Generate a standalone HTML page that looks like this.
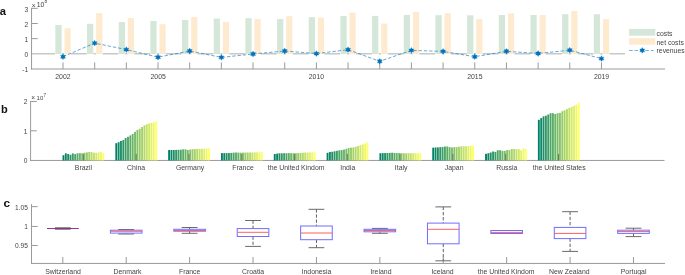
<!DOCTYPE html>
<html><head><meta charset="utf-8"><style>
html,body{margin:0;padding:0;background:#fff;}
body{width:685px;height:275px;overflow:hidden;}
svg{display:block;font-family:"Liberation Sans", sans-serif;will-change:transform;}
</style></head><body>
<svg width="685" height="275" viewBox="0 0 685 275">
<rect width="685" height="275" fill="#fff"/>
<line x1="31.55" y1="7.85" x2="31.55" y2="69.50" stroke="#9a9a9a" stroke-width="1.0" />
<line x1="31.05" y1="69.00" x2="665.00" y2="69.00" stroke="#9a9a9a" stroke-width="1.0" />
<line x1="31.55" y1="8.35" x2="37.75" y2="8.35" stroke="#9a9a9a" stroke-width="1.0" />
<text x="28.10" y="11.60" font-size="6.6" text-anchor="end" fill="#444444" font-weight="normal" >3</text>
<line x1="31.55" y1="23.50" x2="37.75" y2="23.50" stroke="#9a9a9a" stroke-width="1.0" />
<text x="28.10" y="27.00" font-size="6.6" text-anchor="end" fill="#444444" font-weight="normal" >2</text>
<line x1="31.55" y1="38.65" x2="37.75" y2="38.65" stroke="#9a9a9a" stroke-width="1.0" />
<text x="28.10" y="41.60" font-size="6.6" text-anchor="end" fill="#444444" font-weight="normal" >1</text>
<text x="28.10" y="56.90" font-size="6.6" text-anchor="end" fill="#444444" font-weight="normal" >0</text>
<text x="28.10" y="71.60" font-size="6.6" text-anchor="end" fill="#444444" font-weight="normal" >-1</text>
<line x1="63.00" y1="69.00" x2="63.00" y2="62.40" stroke="#9a9a9a" stroke-width="1.0" />
<line x1="94.67" y1="69.00" x2="94.67" y2="62.40" stroke="#9a9a9a" stroke-width="1.0" />
<line x1="126.35" y1="69.00" x2="126.35" y2="62.40" stroke="#9a9a9a" stroke-width="1.0" />
<line x1="158.02" y1="69.00" x2="158.02" y2="62.40" stroke="#9a9a9a" stroke-width="1.0" />
<line x1="189.70" y1="69.00" x2="189.70" y2="62.40" stroke="#9a9a9a" stroke-width="1.0" />
<line x1="221.37" y1="69.00" x2="221.37" y2="62.40" stroke="#9a9a9a" stroke-width="1.0" />
<line x1="253.04" y1="69.00" x2="253.04" y2="62.40" stroke="#9a9a9a" stroke-width="1.0" />
<line x1="284.72" y1="69.00" x2="284.72" y2="62.40" stroke="#9a9a9a" stroke-width="1.0" />
<line x1="316.39" y1="69.00" x2="316.39" y2="62.40" stroke="#9a9a9a" stroke-width="1.0" />
<line x1="348.07" y1="69.00" x2="348.07" y2="62.40" stroke="#9a9a9a" stroke-width="1.0" />
<line x1="379.74" y1="69.00" x2="379.74" y2="62.40" stroke="#9a9a9a" stroke-width="1.0" />
<line x1="411.41" y1="69.00" x2="411.41" y2="62.40" stroke="#9a9a9a" stroke-width="1.0" />
<line x1="443.09" y1="69.00" x2="443.09" y2="62.40" stroke="#9a9a9a" stroke-width="1.0" />
<line x1="474.76" y1="69.00" x2="474.76" y2="62.40" stroke="#9a9a9a" stroke-width="1.0" />
<line x1="506.44" y1="69.00" x2="506.44" y2="62.40" stroke="#9a9a9a" stroke-width="1.0" />
<line x1="538.11" y1="69.00" x2="538.11" y2="62.40" stroke="#9a9a9a" stroke-width="1.0" />
<line x1="569.78" y1="69.00" x2="569.78" y2="62.40" stroke="#9a9a9a" stroke-width="1.0" />
<line x1="601.46" y1="69.00" x2="601.46" y2="62.40" stroke="#9a9a9a" stroke-width="1.0" />
<text x="62.90" y="79.30" font-size="6.9" text-anchor="middle" fill="#444444" font-weight="normal" >2002</text>
<text x="158.20" y="79.30" font-size="6.9" text-anchor="middle" fill="#444444" font-weight="normal" >2005</text>
<text x="316.40" y="79.30" font-size="6.9" text-anchor="middle" fill="#444444" font-weight="normal" >2010</text>
<text x="474.85" y="79.30" font-size="6.9" text-anchor="middle" fill="#444444" font-weight="normal" >2015</text>
<text x="601.55" y="79.30" font-size="6.9" text-anchor="middle" fill="#444444" font-weight="normal" >2019</text>
<text x="31.80" y="7.60" font-size="6.6" text-anchor="start" fill="#444444" font-weight="normal" >×</text>
<text x="36.70" y="7.35" font-size="6.9" text-anchor="start" fill="#444444" font-weight="normal" >10</text>
<text x="44.50" y="3.30" font-size="4.8" text-anchor="start" fill="#444444" font-weight="normal" >8</text>
<line x1="32.05" y1="53.80" x2="625.00" y2="53.80" stroke="#c8c8c8" stroke-width="1.6" />
<rect x="55.05" y="52.90" width="6.85" height="2.30" fill="#ffffff"/>
<rect x="55.35" y="25.00" width="6.25" height="29.00" fill="#d5e7d8"/>
<rect x="64.20" y="52.90" width="6.75" height="2.30" fill="#ffffff"/>
<rect x="64.50" y="28.20" width="6.15" height="25.80" fill="#fdeacf"/>
<rect x="86.72" y="52.90" width="6.85" height="2.30" fill="#ffffff"/>
<rect x="87.02" y="23.80" width="6.25" height="30.20" fill="#d5e7d8"/>
<rect x="95.87" y="52.90" width="6.75" height="2.30" fill="#ffffff"/>
<rect x="96.17" y="13.10" width="6.15" height="40.90" fill="#fdeacf"/>
<rect x="118.40" y="52.90" width="6.85" height="2.30" fill="#ffffff"/>
<rect x="118.70" y="22.00" width="6.25" height="32.00" fill="#d5e7d8"/>
<rect x="127.55" y="52.90" width="6.75" height="2.30" fill="#ffffff"/>
<rect x="127.85" y="18.00" width="6.15" height="36.00" fill="#fdeacf"/>
<rect x="150.07" y="52.90" width="6.85" height="2.30" fill="#ffffff"/>
<rect x="150.37" y="21.00" width="6.25" height="33.00" fill="#d5e7d8"/>
<rect x="159.22" y="52.90" width="6.75" height="2.30" fill="#ffffff"/>
<rect x="159.52" y="24.20" width="6.15" height="29.80" fill="#fdeacf"/>
<rect x="181.75" y="52.90" width="6.85" height="2.30" fill="#ffffff"/>
<rect x="182.05" y="20.00" width="6.25" height="34.00" fill="#d5e7d8"/>
<rect x="190.90" y="52.90" width="6.75" height="2.30" fill="#ffffff"/>
<rect x="191.20" y="17.00" width="6.15" height="37.00" fill="#fdeacf"/>
<rect x="213.42" y="52.90" width="6.85" height="2.30" fill="#ffffff"/>
<rect x="213.72" y="18.60" width="6.25" height="35.40" fill="#d5e7d8"/>
<rect x="222.57" y="52.90" width="6.75" height="2.30" fill="#ffffff"/>
<rect x="222.87" y="22.00" width="6.15" height="32.00" fill="#fdeacf"/>
<rect x="245.09" y="52.90" width="6.85" height="2.30" fill="#ffffff"/>
<rect x="245.39" y="18.20" width="6.25" height="35.80" fill="#d5e7d8"/>
<rect x="254.24" y="52.90" width="6.75" height="2.30" fill="#ffffff"/>
<rect x="254.54" y="19.00" width="6.15" height="35.00" fill="#fdeacf"/>
<rect x="276.77" y="52.90" width="6.85" height="2.30" fill="#ffffff"/>
<rect x="277.07" y="19.00" width="6.25" height="35.00" fill="#d5e7d8"/>
<rect x="285.92" y="52.90" width="6.75" height="2.30" fill="#ffffff"/>
<rect x="286.22" y="16.20" width="6.15" height="37.80" fill="#fdeacf"/>
<rect x="308.44" y="52.90" width="6.85" height="2.30" fill="#ffffff"/>
<rect x="308.74" y="17.20" width="6.25" height="36.80" fill="#d5e7d8"/>
<rect x="317.59" y="52.90" width="6.75" height="2.30" fill="#ffffff"/>
<rect x="317.89" y="17.60" width="6.15" height="36.40" fill="#fdeacf"/>
<rect x="340.12" y="52.90" width="6.85" height="2.30" fill="#ffffff"/>
<rect x="340.42" y="16.00" width="6.25" height="38.00" fill="#d5e7d8"/>
<rect x="349.27" y="52.90" width="6.75" height="2.30" fill="#ffffff"/>
<rect x="349.57" y="12.60" width="6.15" height="41.40" fill="#fdeacf"/>
<rect x="371.79" y="52.90" width="6.85" height="2.30" fill="#ffffff"/>
<rect x="372.09" y="15.90" width="6.25" height="38.10" fill="#d5e7d8"/>
<rect x="380.94" y="52.90" width="6.75" height="2.30" fill="#ffffff"/>
<rect x="381.24" y="23.50" width="6.15" height="30.50" fill="#fdeacf"/>
<rect x="403.46" y="52.90" width="6.85" height="2.30" fill="#ffffff"/>
<rect x="403.76" y="15.00" width="6.25" height="39.00" fill="#d5e7d8"/>
<rect x="412.61" y="52.90" width="6.75" height="2.30" fill="#ffffff"/>
<rect x="412.91" y="12.00" width="6.15" height="42.00" fill="#fdeacf"/>
<rect x="435.14" y="52.90" width="6.85" height="2.30" fill="#ffffff"/>
<rect x="435.44" y="15.20" width="6.25" height="38.80" fill="#d5e7d8"/>
<rect x="444.29" y="52.90" width="6.75" height="2.30" fill="#ffffff"/>
<rect x="444.59" y="13.30" width="6.15" height="40.70" fill="#fdeacf"/>
<rect x="466.81" y="52.90" width="6.85" height="2.30" fill="#ffffff"/>
<rect x="467.11" y="15.30" width="6.25" height="38.70" fill="#d5e7d8"/>
<rect x="475.96" y="52.90" width="6.75" height="2.30" fill="#ffffff"/>
<rect x="476.26" y="19.00" width="6.15" height="35.00" fill="#fdeacf"/>
<rect x="498.49" y="52.90" width="6.85" height="2.30" fill="#ffffff"/>
<rect x="498.79" y="15.00" width="6.25" height="39.00" fill="#d5e7d8"/>
<rect x="507.64" y="52.90" width="6.75" height="2.30" fill="#ffffff"/>
<rect x="507.94" y="13.30" width="6.15" height="40.70" fill="#fdeacf"/>
<rect x="530.16" y="52.90" width="6.85" height="2.30" fill="#ffffff"/>
<rect x="530.46" y="15.00" width="6.25" height="39.00" fill="#d5e7d8"/>
<rect x="539.31" y="52.90" width="6.75" height="2.30" fill="#ffffff"/>
<rect x="539.61" y="15.00" width="6.15" height="39.00" fill="#fdeacf"/>
<rect x="561.83" y="52.90" width="6.85" height="2.30" fill="#ffffff"/>
<rect x="562.13" y="14.20" width="6.25" height="39.80" fill="#d5e7d8"/>
<rect x="570.98" y="52.90" width="6.75" height="2.30" fill="#ffffff"/>
<rect x="571.28" y="11.10" width="6.15" height="42.90" fill="#fdeacf"/>
<rect x="593.51" y="52.90" width="6.85" height="2.30" fill="#ffffff"/>
<rect x="593.81" y="14.20" width="6.25" height="39.80" fill="#d5e7d8"/>
<rect x="602.66" y="52.90" width="6.75" height="2.30" fill="#ffffff"/>
<rect x="602.96" y="19.20" width="6.15" height="34.80" fill="#fdeacf"/>
<polyline points="63.00,56.70 94.67,43.10 126.35,49.60 158.02,57.20 189.70,51.00 221.37,57.40 253.04,54.00 284.72,51.00 316.39,53.60 348.07,49.70 379.74,61.30 411.41,50.40 443.09,51.40 474.76,56.70 506.44,51.30 538.11,53.50 569.78,50.20 601.46,58.60" fill="none" stroke="#0072bd" stroke-width="0.75" stroke-dasharray="3.4 1.9" opacity="0.8"/>
<polygon points="63.00,53.80 63.84,55.25 65.51,55.25 64.67,56.70 65.51,58.15 63.84,58.15 63.00,59.60 62.16,58.15 60.49,58.15 61.33,56.70 60.49,55.25 62.16,55.25" fill="#0072bd" stroke="#0072bd" stroke-width="0.3"/>
<polygon points="94.67,40.20 95.51,41.65 97.19,41.65 96.35,43.10 97.19,44.55 95.51,44.55 94.67,46.00 93.84,44.55 92.16,44.55 93.00,43.10 92.16,41.65 93.84,41.65" fill="#0072bd" stroke="#0072bd" stroke-width="0.3"/>
<polygon points="126.35,46.70 127.19,48.15 128.86,48.15 128.02,49.60 128.86,51.05 127.19,51.05 126.35,52.50 125.51,51.05 123.84,51.05 124.67,49.60 123.84,48.15 125.51,48.15" fill="#0072bd" stroke="#0072bd" stroke-width="0.3"/>
<polygon points="158.02,54.30 158.86,55.75 160.53,55.75 159.70,57.20 160.53,58.65 158.86,58.65 158.02,60.10 157.18,58.65 155.51,58.65 156.35,57.20 155.51,55.75 157.18,55.75" fill="#0072bd" stroke="#0072bd" stroke-width="0.3"/>
<polygon points="189.70,48.10 190.53,49.55 192.21,49.55 191.37,51.00 192.21,52.45 190.53,52.45 189.70,53.90 188.86,52.45 187.18,52.45 188.02,51.00 187.18,49.55 188.86,49.55" fill="#0072bd" stroke="#0072bd" stroke-width="0.3"/>
<polygon points="221.37,54.50 222.21,55.95 223.88,55.95 223.04,57.40 223.88,58.85 222.21,58.85 221.37,60.30 220.53,58.85 218.86,58.85 219.70,57.40 218.86,55.95 220.53,55.95" fill="#0072bd" stroke="#0072bd" stroke-width="0.3"/>
<polygon points="253.04,51.10 253.88,52.55 255.56,52.55 254.72,54.00 255.56,55.45 253.88,55.45 253.04,56.90 252.21,55.45 250.53,55.45 251.37,54.00 250.53,52.55 252.21,52.55" fill="#0072bd" stroke="#0072bd" stroke-width="0.3"/>
<polygon points="284.72,48.10 285.56,49.55 287.23,49.55 286.39,51.00 287.23,52.45 285.56,52.45 284.72,53.90 283.88,52.45 282.21,52.45 283.04,51.00 282.21,49.55 283.88,49.55" fill="#0072bd" stroke="#0072bd" stroke-width="0.3"/>
<polygon points="316.39,50.70 317.23,52.15 318.90,52.15 318.07,53.60 318.90,55.05 317.23,55.05 316.39,56.50 315.55,55.05 313.88,55.05 314.72,53.60 313.88,52.15 315.55,52.15" fill="#0072bd" stroke="#0072bd" stroke-width="0.3"/>
<polygon points="348.07,46.80 348.90,48.25 350.58,48.25 349.74,49.70 350.58,51.15 348.90,51.15 348.07,52.60 347.23,51.15 345.55,51.15 346.39,49.70 345.55,48.25 347.23,48.25" fill="#0072bd" stroke="#0072bd" stroke-width="0.3"/>
<polygon points="379.74,58.40 380.58,59.85 382.25,59.85 381.41,61.30 382.25,62.75 380.58,62.75 379.74,64.20 378.90,62.75 377.23,62.75 378.07,61.30 377.23,59.85 378.90,59.85" fill="#0072bd" stroke="#0072bd" stroke-width="0.3"/>
<polygon points="411.41,47.50 412.25,48.95 413.93,48.95 413.09,50.40 413.93,51.85 412.25,51.85 411.41,53.30 410.58,51.85 408.90,51.85 409.74,50.40 408.90,48.95 410.58,48.95" fill="#0072bd" stroke="#0072bd" stroke-width="0.3"/>
<polygon points="443.09,48.50 443.93,49.95 445.60,49.95 444.76,51.40 445.60,52.85 443.93,52.85 443.09,54.30 442.25,52.85 440.58,52.85 441.41,51.40 440.58,49.95 442.25,49.95" fill="#0072bd" stroke="#0072bd" stroke-width="0.3"/>
<polygon points="474.76,53.80 475.60,55.25 477.27,55.25 476.44,56.70 477.27,58.15 475.60,58.15 474.76,59.60 473.92,58.15 472.25,58.15 473.09,56.70 472.25,55.25 473.92,55.25" fill="#0072bd" stroke="#0072bd" stroke-width="0.3"/>
<polygon points="506.44,48.40 507.27,49.85 508.95,49.85 508.11,51.30 508.95,52.75 507.27,52.75 506.44,54.20 505.60,52.75 503.92,52.75 504.76,51.30 503.92,49.85 505.60,49.85" fill="#0072bd" stroke="#0072bd" stroke-width="0.3"/>
<polygon points="538.11,50.60 538.95,52.05 540.62,52.05 539.78,53.50 540.62,54.95 538.95,54.95 538.11,56.40 537.27,54.95 535.60,54.95 536.44,53.50 535.60,52.05 537.27,52.05" fill="#0072bd" stroke="#0072bd" stroke-width="0.3"/>
<polygon points="569.78,47.30 570.62,48.75 572.30,48.75 571.46,50.20 572.30,51.65 570.62,51.65 569.78,53.10 568.95,51.65 567.27,51.65 568.11,50.20 567.27,48.75 568.95,48.75" fill="#0072bd" stroke="#0072bd" stroke-width="0.3"/>
<polygon points="601.46,55.70 602.30,57.15 603.97,57.15 603.13,58.60 603.97,60.05 602.30,60.05 601.46,61.50 600.62,60.05 598.95,60.05 599.78,58.60 598.95,57.15 600.62,57.15" fill="#0072bd" stroke="#0072bd" stroke-width="0.3"/>
<rect x="629.10" y="29.00" width="26.20" height="6.70" fill="#d5e7d8"/>
<rect x="629.10" y="38.20" width="26.20" height="6.50" fill="#fdeacf"/>
<line x1="629.10" y1="50.40" x2="653.60" y2="50.40" stroke="#0072bd" stroke-width="0.75" stroke-dasharray="3.6 1.8" opacity="0.8"/>
<polygon points="642.30,47.50 643.14,48.95 644.81,48.95 643.97,50.40 644.81,51.85 643.14,51.85 642.30,53.30 641.46,51.85 639.79,51.85 640.63,50.40 639.79,48.95 641.46,48.95" fill="#0072bd" stroke="#0072bd" stroke-width="0.3"/>
<text x="656.60" y="35.60" font-size="6.8" text-anchor="start" fill="#444444" font-weight="normal" >costs</text>
<text x="656.60" y="44.70" font-size="6.8" text-anchor="start" fill="#444444" font-weight="normal" >net costs</text>
<text x="656.60" y="53.30" font-size="6.8" text-anchor="start" fill="#444444" font-weight="normal" >revenues</text>
<text x="-0.30" y="15.10" font-size="11.2" text-anchor="start" fill="#111111" font-weight="bold" >a</text>
<line x1="30.60" y1="100.95" x2="30.60" y2="160.95" stroke="#9a9a9a" stroke-width="1.0" />
<line x1="30.10" y1="160.45" x2="664.50" y2="160.45" stroke="#9a9a9a" stroke-width="1.0" />
<line x1="30.60" y1="101.45" x2="36.80" y2="101.45" stroke="#9a9a9a" stroke-width="1.0" />
<text x="27.30" y="104.30" font-size="6.6" text-anchor="end" fill="#444444" font-weight="normal" >2</text>
<line x1="30.60" y1="130.80" x2="36.80" y2="130.80" stroke="#9a9a9a" stroke-width="1.0" />
<text x="27.30" y="133.60" font-size="6.6" text-anchor="end" fill="#444444" font-weight="normal" >1</text>
<text x="27.30" y="162.80" font-size="6.6" text-anchor="end" fill="#444444" font-weight="normal" >0</text>
<text x="83.40" y="170.20" font-size="6.9" text-anchor="middle" fill="#444444" font-weight="normal" >Brazil</text>
<text x="136.10" y="170.20" font-size="6.9" text-anchor="middle" fill="#444444" font-weight="normal" >China</text>
<text x="190.05" y="170.20" font-size="6.9" text-anchor="middle" fill="#444444" font-weight="normal" >Germany</text>
<text x="243.00" y="170.20" font-size="6.9" text-anchor="middle" fill="#444444" font-weight="normal" >France</text>
<text x="296.15" y="170.20" font-size="6.9" text-anchor="middle" fill="#444444" font-weight="normal" >the United Kindom</text>
<text x="347.80" y="170.20" font-size="6.9" text-anchor="middle" fill="#444444" font-weight="normal" >India</text>
<text x="401.15" y="170.20" font-size="6.9" text-anchor="middle" fill="#444444" font-weight="normal" >Italy</text>
<text x="454.10" y="170.20" font-size="6.9" text-anchor="middle" fill="#444444" font-weight="normal" >Japan</text>
<text x="506.85" y="170.20" font-size="6.9" text-anchor="middle" fill="#444444" font-weight="normal" >Russia</text>
<text x="559.20" y="170.20" font-size="6.9" text-anchor="middle" fill="#444444" font-weight="normal" >the United States</text>
<text x="31.20" y="100.40" font-size="6.6" text-anchor="start" fill="#444444" font-weight="normal" >×</text>
<text x="36.60" y="100.10" font-size="6.0" text-anchor="start" fill="#444444" font-weight="normal" >10</text>
<text x="43.50" y="96.50" font-size="4.5" text-anchor="start" fill="#444444" font-weight="normal" >7</text>
<text x="0.90" y="112.90" font-size="11.0" text-anchor="start" fill="#111111" font-weight="bold" >b</text>
<rect x="62.52" y="155.20" width="1.88" height="5.25" fill="rgb(0,128,102)"/>
<rect x="64.87" y="153.30" width="1.88" height="7.15" fill="rgb(15,135,102)"/>
<rect x="67.21" y="154.00" width="1.88" height="6.45" fill="rgb(30,142,102)"/>
<rect x="69.56" y="154.70" width="1.88" height="5.75" fill="rgb(45,150,102)"/>
<rect x="71.90" y="153.40" width="1.88" height="7.05" fill="rgb(60,158,102)"/>
<rect x="74.25" y="154.10" width="1.88" height="6.35" fill="rgb(75,165,102)"/>
<rect x="76.59" y="153.30" width="1.88" height="7.15" fill="rgb(90,172,102)"/>
<rect x="78.94" y="153.10" width="1.88" height="7.35" fill="rgb(105,180,102)"/>
<rect x="81.28" y="153.30" width="1.88" height="7.15" fill="rgb(120,188,102)"/>
<rect x="83.62" y="152.70" width="1.88" height="7.75" fill="rgb(135,195,102)"/>
<rect x="85.97" y="152.40" width="1.88" height="8.05" fill="rgb(150,203,102)"/>
<rect x="88.31" y="152.00" width="1.88" height="8.45" fill="rgb(165,210,102)"/>
<rect x="90.66" y="152.10" width="1.88" height="8.35" fill="rgb(180,218,102)"/>
<rect x="93.00" y="152.70" width="1.88" height="7.75" fill="rgb(195,225,102)"/>
<rect x="95.35" y="152.80" width="1.88" height="7.65" fill="rgb(210,232,102)"/>
<rect x="97.69" y="152.40" width="1.88" height="8.05" fill="rgb(225,240,102)"/>
<rect x="100.04" y="152.00" width="1.88" height="8.45" fill="rgb(240,248,102)"/>
<rect x="102.38" y="153.10" width="1.88" height="7.35" fill="rgb(255,255,102)"/>
<rect x="115.34" y="143.20" width="1.88" height="17.25" fill="rgb(0,128,102)"/>
<rect x="117.69" y="142.20" width="1.88" height="18.25" fill="rgb(15,135,102)"/>
<rect x="120.03" y="141.00" width="1.88" height="19.45" fill="rgb(30,142,102)"/>
<rect x="122.38" y="140.00" width="1.88" height="20.45" fill="rgb(45,150,102)"/>
<rect x="124.72" y="138.00" width="1.88" height="22.45" fill="rgb(60,158,102)"/>
<rect x="127.07" y="136.80" width="1.88" height="23.65" fill="rgb(75,165,102)"/>
<rect x="129.41" y="135.40" width="1.88" height="25.05" fill="rgb(90,172,102)"/>
<rect x="131.76" y="134.00" width="1.88" height="26.45" fill="rgb(105,180,102)"/>
<rect x="134.10" y="131.80" width="1.88" height="28.65" fill="rgb(120,188,102)"/>
<rect x="136.44" y="130.00" width="1.88" height="30.45" fill="rgb(135,195,102)"/>
<rect x="138.79" y="128.80" width="1.88" height="31.65" fill="rgb(150,203,102)"/>
<rect x="141.13" y="127.00" width="1.88" height="33.45" fill="rgb(165,210,102)"/>
<rect x="143.48" y="125.30" width="1.88" height="35.15" fill="rgb(180,218,102)"/>
<rect x="145.82" y="124.30" width="1.88" height="36.15" fill="rgb(195,225,102)"/>
<rect x="148.17" y="123.40" width="1.88" height="37.05" fill="rgb(210,232,102)"/>
<rect x="150.51" y="122.80" width="1.88" height="37.65" fill="rgb(225,240,102)"/>
<rect x="152.86" y="122.30" width="1.88" height="38.15" fill="rgb(240,248,102)"/>
<rect x="155.20" y="121.40" width="1.88" height="39.05" fill="rgb(255,255,102)"/>
<rect x="168.16" y="150.00" width="1.88" height="10.45" fill="rgb(0,128,102)"/>
<rect x="170.51" y="150.00" width="1.88" height="10.45" fill="rgb(15,135,102)"/>
<rect x="172.85" y="150.00" width="1.88" height="10.45" fill="rgb(30,142,102)"/>
<rect x="175.20" y="149.90" width="1.88" height="10.55" fill="rgb(45,150,102)"/>
<rect x="177.54" y="149.80" width="1.88" height="10.65" fill="rgb(60,158,102)"/>
<rect x="179.89" y="149.70" width="1.88" height="10.75" fill="rgb(75,165,102)"/>
<rect x="182.23" y="149.30" width="1.88" height="11.15" fill="rgb(90,172,102)"/>
<rect x="184.58" y="149.30" width="1.88" height="11.15" fill="rgb(105,180,102)"/>
<rect x="186.92" y="150.00" width="1.88" height="10.45" fill="rgb(120,188,102)"/>
<rect x="189.26" y="149.60" width="1.88" height="10.85" fill="rgb(135,195,102)"/>
<rect x="191.61" y="149.20" width="1.88" height="11.25" fill="rgb(150,203,102)"/>
<rect x="193.95" y="149.20" width="1.88" height="11.25" fill="rgb(165,210,102)"/>
<rect x="196.30" y="148.90" width="1.88" height="11.55" fill="rgb(180,218,102)"/>
<rect x="198.64" y="148.90" width="1.88" height="11.55" fill="rgb(195,225,102)"/>
<rect x="200.99" y="148.80" width="1.88" height="11.65" fill="rgb(210,232,102)"/>
<rect x="203.33" y="148.70" width="1.88" height="11.75" fill="rgb(225,240,102)"/>
<rect x="205.68" y="148.30" width="1.88" height="12.15" fill="rgb(240,248,102)"/>
<rect x="208.02" y="148.20" width="1.88" height="12.25" fill="rgb(255,255,102)"/>
<rect x="220.98" y="153.10" width="1.88" height="7.35" fill="rgb(0,128,102)"/>
<rect x="223.33" y="153.10" width="1.88" height="7.35" fill="rgb(15,135,102)"/>
<rect x="225.67" y="153.10" width="1.88" height="7.35" fill="rgb(30,142,102)"/>
<rect x="228.02" y="153.00" width="1.88" height="7.45" fill="rgb(45,150,102)"/>
<rect x="230.36" y="152.90" width="1.88" height="7.55" fill="rgb(60,158,102)"/>
<rect x="232.71" y="152.60" width="1.88" height="7.85" fill="rgb(75,165,102)"/>
<rect x="235.05" y="152.50" width="1.88" height="7.95" fill="rgb(90,172,102)"/>
<rect x="237.40" y="152.60" width="1.88" height="7.85" fill="rgb(105,180,102)"/>
<rect x="239.74" y="152.70" width="1.88" height="7.75" fill="rgb(120,188,102)"/>
<rect x="242.08" y="152.60" width="1.88" height="7.85" fill="rgb(135,195,102)"/>
<rect x="244.43" y="152.60" width="1.88" height="7.85" fill="rgb(150,203,102)"/>
<rect x="246.77" y="152.50" width="1.88" height="7.95" fill="rgb(165,210,102)"/>
<rect x="249.12" y="152.50" width="1.88" height="7.95" fill="rgb(180,218,102)"/>
<rect x="251.46" y="152.40" width="1.88" height="8.05" fill="rgb(195,225,102)"/>
<rect x="253.81" y="152.40" width="1.88" height="8.05" fill="rgb(210,232,102)"/>
<rect x="256.15" y="152.30" width="1.88" height="8.15" fill="rgb(225,240,102)"/>
<rect x="258.50" y="152.20" width="1.88" height="8.25" fill="rgb(240,248,102)"/>
<rect x="260.84" y="151.80" width="1.88" height="8.65" fill="rgb(255,255,102)"/>
<rect x="273.80" y="154.00" width="1.88" height="6.45" fill="rgb(0,128,102)"/>
<rect x="276.15" y="153.60" width="1.88" height="6.85" fill="rgb(15,135,102)"/>
<rect x="278.49" y="153.30" width="1.88" height="7.15" fill="rgb(30,142,102)"/>
<rect x="280.84" y="153.30" width="1.88" height="7.15" fill="rgb(45,150,102)"/>
<rect x="283.18" y="153.20" width="1.88" height="7.25" fill="rgb(60,158,102)"/>
<rect x="285.53" y="153.20" width="1.88" height="7.25" fill="rgb(75,165,102)"/>
<rect x="287.87" y="153.10" width="1.88" height="7.35" fill="rgb(90,172,102)"/>
<rect x="290.22" y="153.20" width="1.88" height="7.25" fill="rgb(105,180,102)"/>
<rect x="292.56" y="153.20" width="1.88" height="7.25" fill="rgb(120,188,102)"/>
<rect x="294.90" y="153.20" width="1.88" height="7.25" fill="rgb(135,195,102)"/>
<rect x="297.25" y="153.00" width="1.88" height="7.45" fill="rgb(150,203,102)"/>
<rect x="299.59" y="152.90" width="1.88" height="7.55" fill="rgb(165,210,102)"/>
<rect x="301.94" y="152.70" width="1.88" height="7.75" fill="rgb(180,218,102)"/>
<rect x="304.28" y="152.60" width="1.88" height="7.85" fill="rgb(195,225,102)"/>
<rect x="306.63" y="152.50" width="1.88" height="7.95" fill="rgb(210,232,102)"/>
<rect x="308.97" y="152.50" width="1.88" height="7.95" fill="rgb(225,240,102)"/>
<rect x="311.32" y="152.40" width="1.88" height="8.05" fill="rgb(240,248,102)"/>
<rect x="313.66" y="151.70" width="1.88" height="8.75" fill="rgb(255,255,102)"/>
<rect x="326.62" y="152.80" width="1.88" height="7.65" fill="rgb(0,128,102)"/>
<rect x="328.97" y="152.00" width="1.88" height="8.45" fill="rgb(15,135,102)"/>
<rect x="331.31" y="151.80" width="1.88" height="8.65" fill="rgb(30,142,102)"/>
<rect x="333.66" y="151.30" width="1.88" height="9.15" fill="rgb(45,150,102)"/>
<rect x="336.00" y="150.80" width="1.88" height="9.65" fill="rgb(60,158,102)"/>
<rect x="338.35" y="150.30" width="1.88" height="10.15" fill="rgb(75,165,102)"/>
<rect x="340.69" y="150.10" width="1.88" height="10.35" fill="rgb(90,172,102)"/>
<rect x="343.04" y="149.60" width="1.88" height="10.85" fill="rgb(105,180,102)"/>
<rect x="345.38" y="148.80" width="1.88" height="11.65" fill="rgb(120,188,102)"/>
<rect x="347.72" y="148.00" width="1.88" height="12.45" fill="rgb(135,195,102)"/>
<rect x="350.07" y="147.70" width="1.88" height="12.75" fill="rgb(150,203,102)"/>
<rect x="352.41" y="147.40" width="1.88" height="13.05" fill="rgb(165,210,102)"/>
<rect x="354.76" y="146.70" width="1.88" height="13.75" fill="rgb(180,218,102)"/>
<rect x="357.10" y="146.00" width="1.88" height="14.45" fill="rgb(195,225,102)"/>
<rect x="359.45" y="145.20" width="1.88" height="15.25" fill="rgb(210,232,102)"/>
<rect x="361.79" y="144.40" width="1.88" height="16.05" fill="rgb(225,240,102)"/>
<rect x="364.14" y="143.50" width="1.88" height="16.95" fill="rgb(240,248,102)"/>
<rect x="366.48" y="142.40" width="1.88" height="18.05" fill="rgb(255,255,102)"/>
<rect x="379.44" y="153.20" width="1.88" height="7.25" fill="rgb(0,128,102)"/>
<rect x="381.79" y="153.10" width="1.88" height="7.35" fill="rgb(15,135,102)"/>
<rect x="384.13" y="153.10" width="1.88" height="7.35" fill="rgb(30,142,102)"/>
<rect x="386.48" y="153.00" width="1.88" height="7.45" fill="rgb(45,150,102)"/>
<rect x="388.82" y="152.90" width="1.88" height="7.55" fill="rgb(60,158,102)"/>
<rect x="391.17" y="152.70" width="1.88" height="7.75" fill="rgb(75,165,102)"/>
<rect x="393.51" y="152.90" width="1.88" height="7.55" fill="rgb(90,172,102)"/>
<rect x="395.86" y="153.00" width="1.88" height="7.45" fill="rgb(105,180,102)"/>
<rect x="398.20" y="153.10" width="1.88" height="7.35" fill="rgb(120,188,102)"/>
<rect x="400.54" y="153.10" width="1.88" height="7.35" fill="rgb(135,195,102)"/>
<rect x="402.89" y="153.30" width="1.88" height="7.15" fill="rgb(150,203,102)"/>
<rect x="405.23" y="153.30" width="1.88" height="7.15" fill="rgb(165,210,102)"/>
<rect x="407.58" y="153.20" width="1.88" height="7.25" fill="rgb(180,218,102)"/>
<rect x="409.92" y="153.20" width="1.88" height="7.25" fill="rgb(195,225,102)"/>
<rect x="412.27" y="153.20" width="1.88" height="7.25" fill="rgb(210,232,102)"/>
<rect x="414.61" y="153.20" width="1.88" height="7.25" fill="rgb(225,240,102)"/>
<rect x="416.96" y="153.20" width="1.88" height="7.25" fill="rgb(240,248,102)"/>
<rect x="419.30" y="153.20" width="1.88" height="7.25" fill="rgb(255,255,102)"/>
<rect x="432.26" y="147.70" width="1.88" height="12.75" fill="rgb(0,128,102)"/>
<rect x="434.61" y="147.40" width="1.88" height="13.05" fill="rgb(15,135,102)"/>
<rect x="436.95" y="147.40" width="1.88" height="13.05" fill="rgb(30,142,102)"/>
<rect x="439.30" y="147.10" width="1.88" height="13.35" fill="rgb(45,150,102)"/>
<rect x="441.64" y="147.10" width="1.88" height="13.35" fill="rgb(60,158,102)"/>
<rect x="443.99" y="146.50" width="1.88" height="13.95" fill="rgb(75,165,102)"/>
<rect x="446.33" y="146.50" width="1.88" height="13.95" fill="rgb(90,172,102)"/>
<rect x="448.68" y="147.10" width="1.88" height="13.35" fill="rgb(105,180,102)"/>
<rect x="451.02" y="147.50" width="1.88" height="12.95" fill="rgb(120,188,102)"/>
<rect x="453.36" y="147.10" width="1.88" height="13.35" fill="rgb(135,195,102)"/>
<rect x="455.71" y="147.10" width="1.88" height="13.35" fill="rgb(150,203,102)"/>
<rect x="458.05" y="146.70" width="1.88" height="13.75" fill="rgb(165,210,102)"/>
<rect x="460.40" y="146.30" width="1.88" height="14.15" fill="rgb(180,218,102)"/>
<rect x="462.74" y="146.30" width="1.88" height="14.15" fill="rgb(195,225,102)"/>
<rect x="465.09" y="146.10" width="1.88" height="14.35" fill="rgb(210,232,102)"/>
<rect x="467.43" y="146.10" width="1.88" height="14.35" fill="rgb(225,240,102)"/>
<rect x="469.78" y="145.70" width="1.88" height="14.75" fill="rgb(240,248,102)"/>
<rect x="472.12" y="145.70" width="1.88" height="14.75" fill="rgb(255,255,102)"/>
<rect x="485.08" y="153.80" width="1.88" height="6.65" fill="rgb(0,128,102)"/>
<rect x="487.43" y="153.20" width="1.88" height="7.25" fill="rgb(15,135,102)"/>
<rect x="489.77" y="152.50" width="1.88" height="7.95" fill="rgb(30,142,102)"/>
<rect x="492.12" y="151.50" width="1.88" height="8.95" fill="rgb(45,150,102)"/>
<rect x="494.46" y="151.90" width="1.88" height="8.55" fill="rgb(60,158,102)"/>
<rect x="496.81" y="150.20" width="1.88" height="10.25" fill="rgb(75,165,102)"/>
<rect x="499.15" y="150.20" width="1.88" height="10.25" fill="rgb(90,172,102)"/>
<rect x="501.50" y="150.90" width="1.88" height="9.55" fill="rgb(105,180,102)"/>
<rect x="503.84" y="150.90" width="1.88" height="9.55" fill="rgb(120,188,102)"/>
<rect x="506.18" y="150.00" width="1.88" height="10.45" fill="rgb(135,195,102)"/>
<rect x="508.53" y="150.00" width="1.88" height="10.45" fill="rgb(150,203,102)"/>
<rect x="510.87" y="149.00" width="1.88" height="11.45" fill="rgb(165,210,102)"/>
<rect x="513.22" y="149.00" width="1.88" height="11.45" fill="rgb(180,218,102)"/>
<rect x="515.56" y="149.20" width="1.88" height="11.25" fill="rgb(195,225,102)"/>
<rect x="517.91" y="149.20" width="1.88" height="11.25" fill="rgb(210,232,102)"/>
<rect x="520.25" y="150.20" width="1.88" height="10.25" fill="rgb(225,240,102)"/>
<rect x="522.60" y="148.40" width="1.88" height="12.05" fill="rgb(240,248,102)"/>
<rect x="524.94" y="149.00" width="1.88" height="11.45" fill="rgb(255,255,102)"/>
<rect x="537.90" y="119.80" width="1.88" height="40.65" fill="rgb(0,128,102)"/>
<rect x="540.25" y="118.10" width="1.88" height="42.35" fill="rgb(15,135,102)"/>
<rect x="542.59" y="116.40" width="1.88" height="44.05" fill="rgb(30,142,102)"/>
<rect x="544.94" y="115.70" width="1.88" height="44.75" fill="rgb(45,150,102)"/>
<rect x="547.28" y="114.50" width="1.88" height="45.95" fill="rgb(60,158,102)"/>
<rect x="549.63" y="113.20" width="1.88" height="47.25" fill="rgb(75,165,102)"/>
<rect x="551.97" y="113.20" width="1.88" height="47.25" fill="rgb(90,172,102)"/>
<rect x="554.32" y="114.00" width="1.88" height="46.45" fill="rgb(105,180,102)"/>
<rect x="556.66" y="113.20" width="1.88" height="47.25" fill="rgb(120,188,102)"/>
<rect x="559.00" y="112.90" width="1.88" height="47.55" fill="rgb(135,195,102)"/>
<rect x="561.35" y="111.20" width="1.88" height="49.25" fill="rgb(150,203,102)"/>
<rect x="563.69" y="110.30" width="1.88" height="50.15" fill="rgb(165,210,102)"/>
<rect x="566.04" y="109.10" width="1.88" height="51.35" fill="rgb(180,218,102)"/>
<rect x="568.38" y="107.80" width="1.88" height="52.65" fill="rgb(195,225,102)"/>
<rect x="570.73" y="107.00" width="1.88" height="53.45" fill="rgb(210,232,102)"/>
<rect x="573.07" y="105.70" width="1.88" height="54.75" fill="rgb(225,240,102)"/>
<rect x="575.42" y="104.70" width="1.88" height="55.75" fill="rgb(240,248,102)"/>
<rect x="577.76" y="102.40" width="1.88" height="58.05" fill="rgb(255,255,102)"/>
<line x1="83.45" y1="160.45" x2="83.45" y2="153.95" stroke="#4a4a4a" stroke-width="0.9" opacity="0.75"/>
<line x1="136.23" y1="160.45" x2="136.23" y2="153.95" stroke="#4a4a4a" stroke-width="0.9" opacity="0.75"/>
<line x1="189.01" y1="160.45" x2="189.01" y2="153.95" stroke="#4a4a4a" stroke-width="0.9" opacity="0.75"/>
<line x1="241.79" y1="160.45" x2="241.79" y2="153.95" stroke="#4a4a4a" stroke-width="0.9" opacity="0.75"/>
<line x1="294.57" y1="160.45" x2="294.57" y2="153.95" stroke="#4a4a4a" stroke-width="0.9" opacity="0.75"/>
<line x1="347.35" y1="160.45" x2="347.35" y2="153.95" stroke="#4a4a4a" stroke-width="0.9" opacity="0.75"/>
<line x1="400.13" y1="160.45" x2="400.13" y2="153.95" stroke="#4a4a4a" stroke-width="0.9" opacity="0.75"/>
<line x1="452.91" y1="160.45" x2="452.91" y2="153.95" stroke="#4a4a4a" stroke-width="0.9" opacity="0.75"/>
<line x1="505.69" y1="160.45" x2="505.69" y2="153.95" stroke="#4a4a4a" stroke-width="0.9" opacity="0.75"/>
<line x1="558.47" y1="160.45" x2="558.47" y2="153.95" stroke="#4a4a4a" stroke-width="0.9" opacity="0.75"/>
<line x1="31.50" y1="204.10" x2="31.50" y2="263.95" stroke="#9a9a9a" stroke-width="1.0" />
<line x1="31.00" y1="263.45" x2="665.00" y2="263.45" stroke="#9a9a9a" stroke-width="1.0" />
<line x1="31.50" y1="206.65" x2="37.70" y2="206.65" stroke="#9a9a9a" stroke-width="1.0" />
<text x="27.90" y="209.90" font-size="6.6" text-anchor="end" fill="#444444" font-weight="normal" >1.05</text>
<line x1="31.50" y1="226.45" x2="37.70" y2="226.45" stroke="#9a9a9a" stroke-width="1.0" />
<text x="27.90" y="229.10" font-size="6.6" text-anchor="end" fill="#444444" font-weight="normal" >1</text>
<line x1="31.50" y1="245.50" x2="37.70" y2="245.50" stroke="#9a9a9a" stroke-width="1.0" />
<text x="27.90" y="248.25" font-size="6.6" text-anchor="end" fill="#444444" font-weight="normal" >0.95</text>
<line x1="62.80" y1="263.45" x2="62.80" y2="256.95" stroke="#9a9a9a" stroke-width="1.0" />
<text x="63.05" y="273.70" font-size="6.9" text-anchor="middle" fill="#444444" font-weight="normal" >Switzerland</text>
<line x1="126.21" y1="263.45" x2="126.21" y2="256.95" stroke="#9a9a9a" stroke-width="1.0" />
<text x="127.55" y="273.70" font-size="6.9" text-anchor="middle" fill="#444444" font-weight="normal" >Denmark</text>
<line x1="189.62" y1="263.45" x2="189.62" y2="256.95" stroke="#9a9a9a" stroke-width="1.0" />
<text x="189.65" y="273.70" font-size="6.9" text-anchor="middle" fill="#444444" font-weight="normal" >France</text>
<line x1="253.03" y1="263.45" x2="253.03" y2="256.95" stroke="#9a9a9a" stroke-width="1.0" />
<text x="253.10" y="273.70" font-size="6.9" text-anchor="middle" fill="#444444" font-weight="normal" >Croatia</text>
<line x1="316.44" y1="263.45" x2="316.44" y2="256.95" stroke="#9a9a9a" stroke-width="1.0" />
<text x="316.50" y="273.70" font-size="6.9" text-anchor="middle" fill="#444444" font-weight="normal" >Indonesia</text>
<line x1="379.85" y1="263.45" x2="379.85" y2="256.95" stroke="#9a9a9a" stroke-width="1.0" />
<text x="380.95" y="273.70" font-size="6.9" text-anchor="middle" fill="#444444" font-weight="normal" >Ireland</text>
<line x1="443.26" y1="263.45" x2="443.26" y2="256.95" stroke="#9a9a9a" stroke-width="1.0" />
<text x="442.50" y="273.70" font-size="6.9" text-anchor="middle" fill="#444444" font-weight="normal" >Iceland</text>
<line x1="506.67" y1="263.45" x2="506.67" y2="256.95" stroke="#9a9a9a" stroke-width="1.0" />
<text x="506.15" y="273.70" font-size="6.9" text-anchor="middle" fill="#444444" font-weight="normal" >the United Kindom</text>
<line x1="570.08" y1="263.45" x2="570.08" y2="256.95" stroke="#9a9a9a" stroke-width="1.0" />
<text x="569.30" y="273.70" font-size="6.9" text-anchor="middle" fill="#444444" font-weight="normal" >New Zealand</text>
<line x1="633.49" y1="263.45" x2="633.49" y2="256.95" stroke="#9a9a9a" stroke-width="1.0" />
<text x="633.60" y="273.70" font-size="6.9" text-anchor="middle" fill="#444444" font-weight="normal" >Portugal</text>
<text x="3.50" y="206.90" font-size="11.8" text-anchor="start" fill="#111111" font-weight="bold" >c</text>
<line x1="47.00" y1="228.50" x2="78.60" y2="228.50" stroke="#9a3aa8" stroke-width="1.0" />
<line x1="47.00" y1="228.50" x2="78.60" y2="228.50" stroke="#9a2a9a" stroke-width="0.6" />
<line x1="54.90" y1="227.60" x2="70.70" y2="227.60" stroke="#333" stroke-width="0.6" />
<line x1="54.90" y1="229.40" x2="70.70" y2="229.40" stroke="#333" stroke-width="0.6" />
<line x1="126.21" y1="229.50" x2="126.21" y2="230.20" stroke="#606060" stroke-width="1.0" stroke-dasharray="3.3 1.8"/>
<line x1="126.21" y1="233.10" x2="126.21" y2="234.00" stroke="#606060" stroke-width="1.0" stroke-dasharray="3.3 1.8"/>
<line x1="118.31" y1="229.50" x2="134.11" y2="229.50" stroke="#6a6a6a" stroke-width="1.0" />
<line x1="118.31" y1="234.00" x2="134.11" y2="234.00" stroke="#6a6a6a" stroke-width="1.0" />
<rect x="110.41" y="230.20" width="31.6" height="2.90" fill="none" stroke="#6e6eff" stroke-width="1.0"/>
<line x1="110.41" y1="231.30" x2="142.01" y2="231.30" stroke="#ff5f5f" stroke-width="1.0" />
<line x1="189.62" y1="227.50" x2="189.62" y2="229.30" stroke="#606060" stroke-width="1.0" stroke-dasharray="3.3 1.8"/>
<line x1="189.62" y1="231.20" x2="189.62" y2="233.30" stroke="#606060" stroke-width="1.0" stroke-dasharray="3.3 1.8"/>
<line x1="181.72" y1="227.50" x2="197.52" y2="227.50" stroke="#6a6a6a" stroke-width="1.0" />
<line x1="181.72" y1="233.30" x2="197.52" y2="233.30" stroke="#6a6a6a" stroke-width="1.0" />
<rect x="173.82" y="229.30" width="31.6" height="1.90" fill="none" stroke="#6e6eff" stroke-width="1.0"/>
<line x1="173.82" y1="230.50" x2="205.42" y2="230.50" stroke="#ff5f5f" stroke-width="1.0" />
<line x1="253.03" y1="220.50" x2="253.03" y2="228.60" stroke="#606060" stroke-width="1.0" stroke-dasharray="3.3 1.8"/>
<line x1="253.03" y1="236.50" x2="253.03" y2="246.40" stroke="#606060" stroke-width="1.0" stroke-dasharray="3.3 1.8"/>
<line x1="245.13" y1="220.50" x2="260.93" y2="220.50" stroke="#6a6a6a" stroke-width="1.0" />
<line x1="245.13" y1="246.40" x2="260.93" y2="246.40" stroke="#6a6a6a" stroke-width="1.0" />
<rect x="237.23" y="228.60" width="31.6" height="7.90" fill="none" stroke="#6e6eff" stroke-width="1.0"/>
<line x1="237.23" y1="232.30" x2="268.83" y2="232.30" stroke="#ff5f5f" stroke-width="1.0" />
<line x1="316.44" y1="209.30" x2="316.44" y2="226.00" stroke="#606060" stroke-width="1.0" stroke-dasharray="3.3 1.8"/>
<line x1="316.44" y1="239.70" x2="316.44" y2="247.70" stroke="#606060" stroke-width="1.0" stroke-dasharray="3.3 1.8"/>
<line x1="308.54" y1="209.30" x2="324.34" y2="209.30" stroke="#6a6a6a" stroke-width="1.0" />
<line x1="308.54" y1="247.70" x2="324.34" y2="247.70" stroke="#6a6a6a" stroke-width="1.0" />
<rect x="300.64" y="226.00" width="31.6" height="13.70" fill="none" stroke="#6e6eff" stroke-width="1.0"/>
<line x1="300.64" y1="233.00" x2="332.24" y2="233.00" stroke="#ff5f5f" stroke-width="1.0" />
<line x1="379.85" y1="228.40" x2="379.85" y2="229.30" stroke="#606060" stroke-width="1.0" stroke-dasharray="3.3 1.8"/>
<line x1="379.85" y1="231.80" x2="379.85" y2="233.30" stroke="#606060" stroke-width="1.0" stroke-dasharray="3.3 1.8"/>
<line x1="371.95" y1="228.40" x2="387.75" y2="228.40" stroke="#6a6a6a" stroke-width="1.0" />
<line x1="371.95" y1="233.30" x2="387.75" y2="233.30" stroke="#6a6a6a" stroke-width="1.0" />
<rect x="364.05" y="229.30" width="31.6" height="2.50" fill="none" stroke="#6e6eff" stroke-width="1.0"/>
<line x1="364.05" y1="230.50" x2="395.65" y2="230.50" stroke="#ff5f5f" stroke-width="1.0" />
<line x1="443.26" y1="206.90" x2="443.26" y2="223.10" stroke="#606060" stroke-width="1.0" stroke-dasharray="3.3 1.8"/>
<line x1="443.26" y1="243.80" x2="443.26" y2="260.80" stroke="#606060" stroke-width="1.0" stroke-dasharray="3.3 1.8"/>
<line x1="435.36" y1="206.90" x2="451.16" y2="206.90" stroke="#6a6a6a" stroke-width="1.0" />
<line x1="435.36" y1="260.80" x2="451.16" y2="260.80" stroke="#6a6a6a" stroke-width="1.0" />
<rect x="427.46" y="223.10" width="31.6" height="20.70" fill="none" stroke="#6e6eff" stroke-width="1.0"/>
<line x1="427.46" y1="229.30" x2="459.06" y2="229.30" stroke="#ff5f5f" stroke-width="1.0" />
<line x1="506.67" y1="230.50" x2="506.67" y2="230.50" stroke="#606060" stroke-width="1.0" stroke-dasharray="3.3 1.8"/>
<line x1="506.67" y1="233.50" x2="506.67" y2="233.50" stroke="#606060" stroke-width="1.0" stroke-dasharray="3.3 1.8"/>
<line x1="498.77" y1="230.50" x2="514.57" y2="230.50" stroke="#6a6a6a" stroke-width="1.0" />
<line x1="498.77" y1="233.50" x2="514.57" y2="233.50" stroke="#6a6a6a" stroke-width="1.0" />
<rect x="490.87" y="230.50" width="31.6" height="3.00" fill="none" stroke="#6e6eff" stroke-width="1.0"/>
<line x1="490.87" y1="232.40" x2="522.47" y2="232.40" stroke="#ff5f5f" stroke-width="1.0" />
<line x1="570.08" y1="211.70" x2="570.08" y2="227.40" stroke="#606060" stroke-width="1.0" stroke-dasharray="3.3 1.8"/>
<line x1="570.08" y1="238.60" x2="570.08" y2="251.40" stroke="#606060" stroke-width="1.0" stroke-dasharray="3.3 1.8"/>
<line x1="562.18" y1="211.70" x2="577.98" y2="211.70" stroke="#6a6a6a" stroke-width="1.0" />
<line x1="562.18" y1="251.40" x2="577.98" y2="251.40" stroke="#6a6a6a" stroke-width="1.0" />
<rect x="554.28" y="227.40" width="31.6" height="11.20" fill="none" stroke="#6e6eff" stroke-width="1.0"/>
<line x1="554.28" y1="233.40" x2="585.88" y2="233.40" stroke="#ff5f5f" stroke-width="1.0" />
<line x1="633.49" y1="228.20" x2="633.49" y2="230.20" stroke="#606060" stroke-width="1.0" stroke-dasharray="3.3 1.8"/>
<line x1="633.49" y1="233.40" x2="633.49" y2="236.60" stroke="#606060" stroke-width="1.0" stroke-dasharray="3.3 1.8"/>
<line x1="625.59" y1="228.20" x2="641.39" y2="228.20" stroke="#6a6a6a" stroke-width="1.0" />
<line x1="625.59" y1="236.60" x2="641.39" y2="236.60" stroke="#6a6a6a" stroke-width="1.0" />
<rect x="617.69" y="230.20" width="31.6" height="3.20" fill="none" stroke="#6e6eff" stroke-width="1.0"/>
<line x1="617.69" y1="231.60" x2="649.29" y2="231.60" stroke="#ff5f5f" stroke-width="1.0" />
</svg>
</body></html>
